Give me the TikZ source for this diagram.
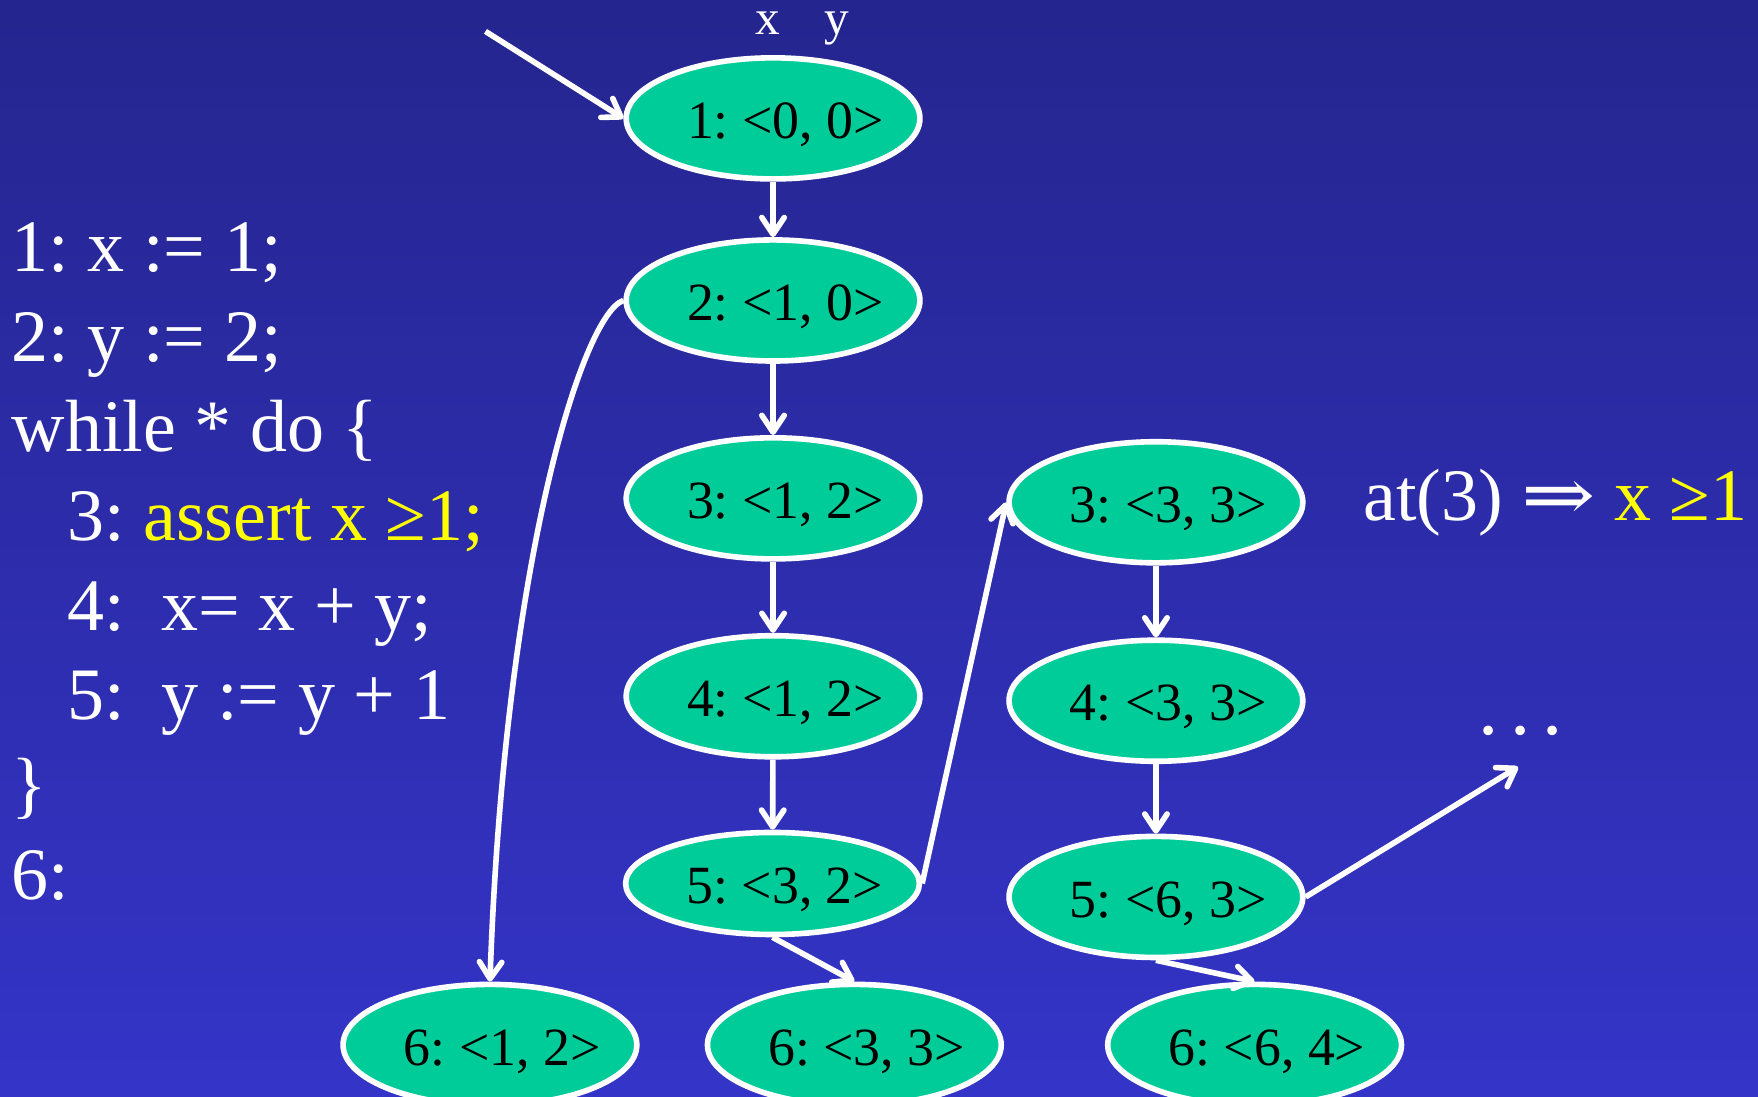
\documentclass[tikz,border=0pt]{standalone}
\usepackage{fontspec}
\setmainfont{Liberation Serif}
\newfontfamily\arrowfont{DejaVu Serif}
\usetikzlibrary{arrows.meta,shapes.geometric}
\frenchspacing

\definecolor{bgtop}{RGB}{37,37,143}
\definecolor{bgbot}{RGB}{52,52,200}
\definecolor{stfill}{RGB}{0,204,153}
\definecolor{hl}{RGB}{255,255,0}
% state text sits a little right of the ellipse centre
\newcommand{\st}[1]{\makebox[0pt]{\hspace*{11pt}#1}}

\begin{document}
\begin{tikzpicture}[x=0.5pt, y=-0.5pt,
  >={Straight Barb[length=7.5pt, width=10pt, round]},
  state/.style={ellipse, draw=white, line width=2.5pt, fill=stfill, minimum width=131pt, minimum height=54pt, inner sep=0pt, text height=21pt, text depth=3pt, text=black, font=\fontsize{24}{28}\selectfont},
  trans/.style={->, line width=2.5pt, draw=white},
  code/.style={anchor=base west, inner sep=0pt, text=white, font=\fontsize{33}{39}\selectfont},
  lbl/.style={anchor=base, inner sep=0pt, text=white, font=\fontsize{22}{26}\selectfont}
]
\useasboundingbox (0,0) rectangle (1568,978);
\clip (0,0) rectangle (1568,978);
\shade[top color=bgtop, bottom color=bgbot] (0,0) rectangle (1568,978);

% program
\node[code] (c1) at (10,242.6) {1: x := 1;};
\node[code] (c2) at (10,322.5) {2: y := 2;};
\node[code] (c3) at (10,402.4) {while * do \{};
\node[code] (c4) at (59.5,482.3) {3: \textcolor{hl}{assert x ≥1;}};
\node[code] (c5) at (59.5,562.2) {4:\ \ x= x + y;};
\node[code] (c6) at (59.5,642.1) {5:\ \ y := y + 1};
\node[code] (c7) at (10,722) {\}};
\node[code] (c8) at (10,801.9) {6:};

\node[code] (prop) at (1215.5,464) {at(3) \scalebox{1.2}[1]{\arrowfont ⇒} \textcolor{hl}{x ≥1}};

% states
\node[lbl] (vx) at (685,31) {x};
\node[lbl] (vy) at (746,31) {y};
\node[state] (n1) at (689.5,105.6) {\st{1: <0, 0>}};
\node[state] (n2) at (689.5,268) {\st{2: <1, 0>}};
\node[state] (n3) at (689.5,444.5) {\st{3: <1, 2>}};
\node[state] (n4) at (689.5,621) {\st{4: <1, 2>}};
\node[state, minimum height=45.5pt] (n5) at (689,788) {\st{5: <3, 2>}};
\node[state] (m3) at (1031,448) {\st{3: <3, 3>}};
\node[state] (m4) at (1031,625) {\st{4: <3, 3>}};
\node[state] (m5) at (1031,800) {\st{5: <6, 3>}};
\node[state] (e1) at (437,932) {\st{6: <1, 2>}};
\node[state] (e2) at (762,932) {\st{6: <3, 3>}};
\node[state] (e3) at (1119,932) {\st{6: <6, 4>}};
\node[code, font=\fontsize{36}{40}\selectfont] (dots) at (1318.5,655) {.\hspace{5.25pt}.\hspace{5.25pt}.};

\coordinate (in0) at (433,28);
\coordinate (more) at (1354,684);

% transitions
\draw[trans] (in0) -- (n1.west);
\draw[trans] (n1) -- (n2);
\draw[trans] (n2) -- (n3);
\draw[trans] (n3) -- (n4);
\draw[trans] (n4) -- (n5);
\draw[trans] (n2.west) .. controls (520,280) and (450,500) .. (e1.north);
\draw[trans] (n5.east) -- (m3.west);
\draw[trans] (n5.south) -- (e2.north);
\draw[trans] (m3) -- (m4);
\draw[trans] (m4) -- (m5);
\draw[trans] (m5.south) -- (e3.north);
\draw[trans] (m5.east) -- (more);
\end{tikzpicture}
\end{document}
